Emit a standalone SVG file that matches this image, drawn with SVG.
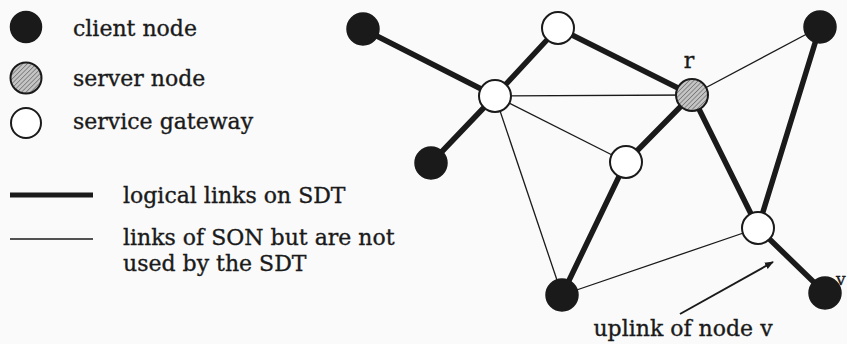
<svg xmlns="http://www.w3.org/2000/svg" width="847" height="344" viewBox="0 0 847 344">
  <style>
    .lbl { font-family: "DejaVu Serif", "Liberation Serif", serif; font-size: 22px; fill: #1a1a1a; stroke: #1a1a1a; stroke-width: 0.35; }
    .thick { stroke: #1a1a1a; stroke-width: 5.5; stroke-linecap: round; fill: none; }
    .thin { stroke: #1a1a1a; stroke-width: 1.3; fill: none; }
    .client { fill: #1a1a1a; stroke: #1a1a1a; stroke-width: 1.5; }
    .server { fill: url(#hatch); stroke: #1a1a1a; stroke-width: 2; }
    .gateway { fill: #ffffff; stroke: #1a1a1a; stroke-width: 2; }
  </style>
  <defs>
    <pattern id="hatch" width="3.2" height="3.2" patternUnits="userSpaceOnUse" patternTransform="rotate(45)">
      <rect width="3.2" height="3.2" fill="#c4c4c4"/>
      <line x1="0" y1="0" x2="0" y2="3.2" stroke="#555" stroke-width="1.1"/>
    </pattern>
    <marker id="arrow" viewBox="0 0 10 10" refX="9" refY="5" markerWidth="9" markerHeight="9" markerUnits="userSpaceOnUse" orient="auto">
      <path d="M0,1 L10,5 L0,9 z" fill="#1a1a1a"/>
    </marker>
  </defs>

  <rect width="847" height="344" fill="#fafafa"/>

  <!-- legend -->
  <g id="legend">
    <circle class="client" cx="26" cy="27" r="15.5"/>
    <circle class="server" cx="26" cy="78" r="15.5"/>
    <circle class="gateway" cx="26" cy="123" r="15"/>
    <text class="lbl" x="73" y="36">client node</text>
    <text class="lbl" x="73" y="86">server node</text>
    <text class="lbl" x="73" y="129">service gateway</text>
    <line x1="10" y1="195" x2="93" y2="195" stroke="#1a1a1a" stroke-width="5"/>
    <line x1="10" y1="239" x2="93" y2="239" stroke="#1a1a1a" stroke-width="1.3"/>
    <text class="lbl" x="123" y="203">logical links on SDT</text>
    <text class="lbl" x="123" y="245">links of SON but are not</text>
    <text class="lbl" x="123" y="271">used by the SDT</text>
  </g>

  <!-- connectors -->
  <g id="connectors">
    <!-- links of the SDT -->
    <line class="thick" x1="363" y1="29" x2="495" y2="96"/>
    <line class="thick" x1="495" y1="96" x2="558" y2="28"/>
    <line class="thick" x1="558" y1="28" x2="692" y2="95"/>
    <line class="thick" x1="495" y1="96" x2="431" y2="163"/>
    <line class="thick" x1="692" y1="95" x2="626" y2="162"/>
    <line class="thick" x1="626" y1="162" x2="562" y2="295"/>
    <line class="thick" x1="692" y1="95" x2="758" y2="228"/>
    <line class="thick" x1="820" y1="27" x2="758" y2="228"/>
    <line class="thick" x1="758" y1="228" x2="825" y2="293"/>
    <!-- other overlay links -->
    <line class="thin" x1="495" y1="96" x2="692" y2="95"/>
    <line class="thin" x1="495" y1="96" x2="626" y2="162"/>
    <line class="thin" x1="495" y1="96" x2="562" y2="295"/>
    <line class="thin" x1="692" y1="95" x2="820" y2="27"/>
    <line class="thin" x1="562" y1="295" x2="758" y2="228"/>
    <!-- uplink pointer -->
    <line x1="680" y1="314" x2="773" y2="262" stroke="#1a1a1a" stroke-width="2" marker-end="url(#arrow)"/>
  </g>

  <!-- nodes -->
  <g id="client-a"><circle class="client" cx="363" cy="29" r="16"/></g>
  <g id="client-b"><circle class="client" cx="431" cy="163" r="16"/></g>
  <g id="client-c"><circle class="client" cx="820" cy="27" r="16"/></g>
  <g id="client-d"><circle class="client" cx="562" cy="295" r="16"/></g>
  <g id="client-v"><circle class="client" cx="825" cy="293" r="16"/>
    <text class="lbl" x="836" y="285" style="font-size:17px">v</text></g>
  <g id="gateway-top"><circle class="gateway" cx="558" cy="28" r="16"/></g>
  <g id="gateway-left"><circle class="gateway" cx="495" cy="96" r="16"/></g>
  <g id="gateway-mid"><circle class="gateway" cx="626" cy="162" r="16"/></g>
  <g id="gateway-right"><circle class="gateway" cx="758" cy="228" r="16"/></g>
  <g id="server-r"><circle class="server" cx="692" cy="95" r="16"/>
    <text class="lbl" x="689" y="68" text-anchor="middle">r</text></g>

  <text class="lbl" x="683" y="336" text-anchor="middle">uplink of node v</text>
</svg>
